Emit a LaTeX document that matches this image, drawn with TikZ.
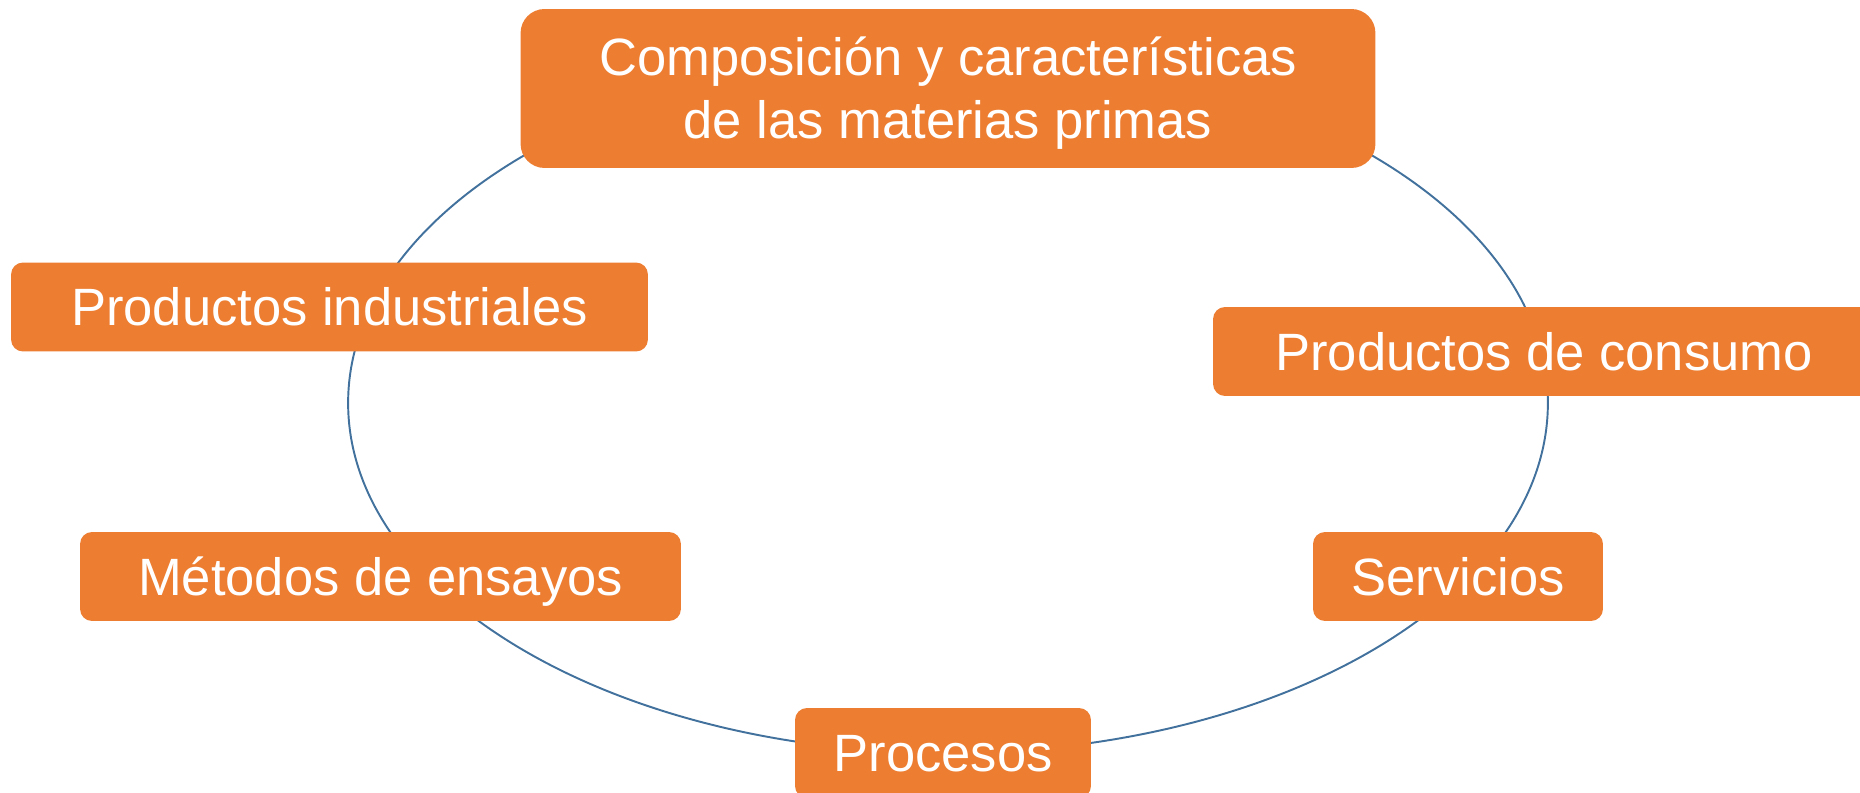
\documentclass[tikz,border=0pt]{standalone}
\usepackage{fontspec}
\setmainfont{Liberation Sans}
\usepackage{xcolor}
\usepackage{tikz}
\usetikzlibrary{positioning}
\definecolor{boxorange}{RGB}{237,125,49}
\definecolor{ringblue}{RGB}{65,113,156}

\begin{document}
\begin{tikzpicture}[
        x=0.02cm, y=-0.02cm,
        box/.style={fill=boxorange, rounded corners=0.24cm, inner sep=0pt,
            minimum height=1.78cm, align=center, text=white,
            font=\fontsize{29.9pt}{35.8pt}\selectfont,
            text height=21.4pt, text depth=0pt},
        ring/.style={draw=ringblue, line width=1.1pt}
    ]
        \useasboundingbox (0,0) rectangle (1860,793);

        % 环
        \draw[ring] (948,403) ellipse [x radius=12cm, y radius=7cm];

        % 顶部
        \node[box, rounded corners=0.48cm, minimum width=17.1cm, minimum height=3.18cm,
            text height=57.2pt] (comp) at (948,88.5)
            {Composición y características\\de las materias primas};

        % 四周
        \node[box, minimum width=12.74cm] (indus) at (329.5,307) {Productos industriales};
        \node[box, minimum width=13.24cm] (consumo) at (1544,351.5) {Productos de consumo};
        \node[box, minimum width=12.02cm] (metodos) at (380.5,576.5) {Métodos de ensayos};
        \node[box, minimum width=5.8cm] (servicios) at (1458,576.5) {Servicios};
        \node[box, minimum width=5.92cm, minimum height=1.8cm] (procesos) at (943,753) {Procesos};
    \end{tikzpicture}
\end{document}
